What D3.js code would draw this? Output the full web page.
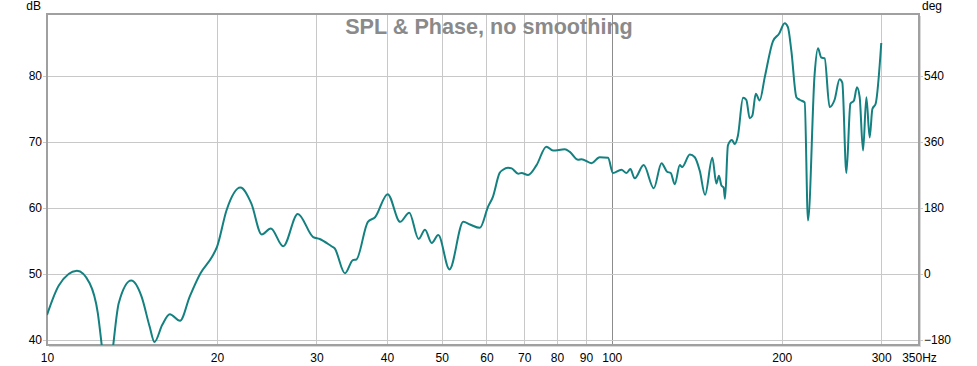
<!DOCTYPE html>
<html>
<head>
<meta charset="utf-8">
<script src="https://cdn.jsdelivr.net/npm/d3@7"></script>
<style>
  body { margin: 0; background: #fff; }
  svg { display: block; font-family: "Liberation Sans", Arial, sans-serif; }
</style>
</head>
<body>
<svg width="977" height="366"></svg>
<script>
// SPL curve (Hz, dB)
var freqs = [10.0, 10.5, 11.3, 11.9, 12.3, 12.5, 12.8, 13.1, 13.4, 14.1, 14.7, 15.2, 15.5, 16.0, 16.5, 17.2, 17.9, 18.7,
  19.6, 20.0, 20.8, 22.0, 23.0, 24.0, 24.9, 26.2, 27.8, 29.6, 30.4, 31.9, 32.3, 33.7, 34.8, 35.3, 37.0, 38.1,
  40.1, 42.2, 43.8, 45.5, 46.7, 48.0, 49.3, 51.6, 54.6, 56.1, 58.4, 60.4, 61.6, 63.3, 64.2, 65.5, 66.5, 68.3,
  69.2, 71.1, 73.6, 76.6, 78.7, 82.6, 84.3, 87.2, 88.4, 92.1, 95.2, 98.5, 100.5, 104, 106.2, 107.9, 109.8,
  113.9, 118.7, 122.5, 125.3, 127.2, 129.3, 132.0, 133.2, 137.5, 140.3, 143.2, 146.3, 150.7, 153.2, 154.8,
  156.4, 157.8, 158.7, 160.6, 163.3, 165.1, 167.3, 170.8, 173.1, 175.5, 177.4, 179.9, 182.8, 186.6, 193.0,
  197.8, 202.4, 205.1, 208.0, 212.3, 215.1, 219.6, 222.6, 228.7, 231.8, 235.0, 238.2, 243.1, 248.1, 253.2,
  256.0, 260.3, 264.6, 268.5, 271.8, 274.8, 278.6, 282.4, 286.2, 289.4, 293.3, 300.1];
var splDb = [43.8, 48.3, 50.5, 48.6, 44.1, 39.2, 31.0, 39.2, 45.6, 49.0, 46.6, 42.0, 39.7, 42.3, 43.9, 42.9, 46.6, 50.1,
  52.6, 54.1, 59.7, 63.1, 60.7, 56.0, 56.9, 54.2, 59.1, 55.6, 55.3, 54.2, 53.9, 50.1, 52.1, 52.2, 57.9, 58.6,
  62.1, 57.9, 59.3, 55.3, 56.7, 54.7, 55.9, 50.7, 57.9, 57.5, 57.0, 60.2, 61.7, 65.3, 65.8, 66.1, 66.0, 65.2,
  65.3, 65.0, 66.5, 69.3, 68.7, 68.9, 68.5, 67.3, 67.4, 66.8, 67.7, 67.6, 65.3, 65.8, 65.3, 65.9, 64.5,
  66.5, 63.0, 66.8, 65.5, 65.3, 63.6, 66.5, 66.2, 68.1, 67.7, 65.6, 62.0, 67.6, 63.7, 64.9,
  63.4, 63.1, 61.4, 69.5, 70.3, 69.7, 71.0, 76.7, 76.4, 73.6, 74.0, 77.3, 76.3, 79.8, 85.3,
  86.4, 88.0, 87.4, 83.8, 76.8, 76.4, 76.0, 58.1, 80.3, 84.2, 82.8, 82.7, 75.3, 76.4, 79.5,
  79.0, 65.3, 75.8, 76.3, 78.3, 76.8, 68.7, 76.8, 70.7, 75.0, 75.8, 85.0];

var xTicks = [10, 20, 30, 40, 50, 60, 70, 80, 90, 100, 200, 300, 350];
var xTickLabels = ["10", "20", "30", "40", "50", "60", "70", "80", "90", "100", "200", "300", "350Hz"];
var dbTicks = [40, 50, 60, 70, 80];
var degTicks = [-180, 0, 180, 360, 540];

var svg = d3.select("svg");
var plotL = 47, plotR = 919, plotT = 14, plotB = 345;
var dbMin = 39.24, dbMax = 89.4;

var x = d3.scaleLog().domain([10, 350]).range([plotL, plotR]);
var y = d3.scaleLinear().domain([dbMin, dbMax]).range([plotB, plotT]);
// phase axis: 10 dB per 180 deg, 50 dB at 0 deg
var yDeg = d3.scaleLinear().domain([(dbMin - 50) * 18, (dbMax - 50) * 18]).range([plotB, plotT]);

// frame shadow
svg.append("rect")
    .attr("x", plotL + 2).attr("y", plotT + 2)
    .attr("width", plotR - plotL).attr("height", plotB - plotT)
    .attr("fill", "#d8d8d8");
svg.append("rect")
    .attr("x", plotL).attr("y", plotT)
    .attr("width", plotR - plotL).attr("height", plotB - plotT)
    .attr("fill", "#fff");

// grid
svg.append("g").selectAll("line")
  .data(xTicks.filter(function(d) { return d > 10 && d < 350; }))
  .enter().append("line")
    .attr("x1", function(d) { return Math.round(x(d)) + 0.5; })
    .attr("x2", function(d) { return Math.round(x(d)) + 0.5; })
    .attr("y1", plotT).attr("y2", plotB)
    .attr("stroke", function(d) { return d === 100 ? "#8c8c8c" : "#c8c8c8"; })
    .attr("stroke-width", 1);

svg.append("g").selectAll("line")
  .data(dbTicks)
  .enter().append("line")
    .attr("x1", plotL - 4).attr("x2", plotR + 4)
    .attr("y1", function(d) { return Math.round(y(d)) + 0.5; })
    .attr("y2", function(d) { return Math.round(y(d)) + 0.5; })
    .attr("stroke", "#c8c8c8");

// frame
svg.append("rect")
    .attr("x", plotL).attr("y", plotT)
    .attr("width", plotR - plotL).attr("height", plotB - plotT)
    .attr("fill", "none")
    .attr("stroke", "#a0a0a0")
    .attr("stroke-width", 2);

// curve
svg.append("clipPath").attr("id", "plot")
  .append("rect")
    .attr("x", plotL).attr("y", plotT)
    .attr("width", plotR - plotL).attr("height", plotB - plotT);

var line = d3.line()
    .x(function(d, i) { return x(freqs[i]); })
    .y(function(d) { return y(d); })
    .curve(d3.curveMonotoneX);

svg.append("path")
    .datum(splDb)
    .attr("clip-path", "url(#plot)")
    .attr("d", line)
    .attr("fill", "none")
    .attr("stroke", "#148080")
    .attr("stroke-width", 2)
    .attr("stroke-linejoin", "round");

// axes (labels only)
var xAxis = d3.axisBottom(x)
    .tickValues(xTicks)
    .tickFormat(function(d, i) { return xTickLabels[i]; })
    .tickSize(0).tickPadding(0);
var gx = svg.append("g").attr("transform", "translate(0," + 353 + ")").call(xAxis);

var gl = svg.append("g").attr("transform", "translate(" + (plotL - 5) + ",0)")
    .call(d3.axisLeft(y).tickValues(dbTicks).tickSize(0).tickPadding(0));
var gr = svg.append("g").attr("transform", "translate(" + (plotR + 5) + ",0)")
    .call(d3.axisRight(yDeg).tickValues(degTicks).tickSize(0).tickPadding(0));

[gx, gl, gr].forEach(function(g) {
  g.select(".domain").remove();
  g.selectAll("text")
      .attr("font-family", "Liberation Sans, Arial, sans-serif")
      .attr("font-size", 12)
      .attr("fill", "#000");
});

svg.append("text")
    .attr("x", 41).attr("y", 10)
    .attr("text-anchor", "end")
    .attr("font-size", 12)
    .text("dB");
svg.append("text")
    .attr("x", 922).attr("y", 10)
    .attr("font-size", 12)
    .text("deg");

svg.append("text")
    .attr("x", 489).attr("y", 34)
    .attr("text-anchor", "middle")
    .attr("font-size", 21.6)
    .attr("font-weight", "bold")
    .attr("fill", "#8a8a8a")
    .text("SPL & Phase, no smoothing");
</script>
</body>
</html>
